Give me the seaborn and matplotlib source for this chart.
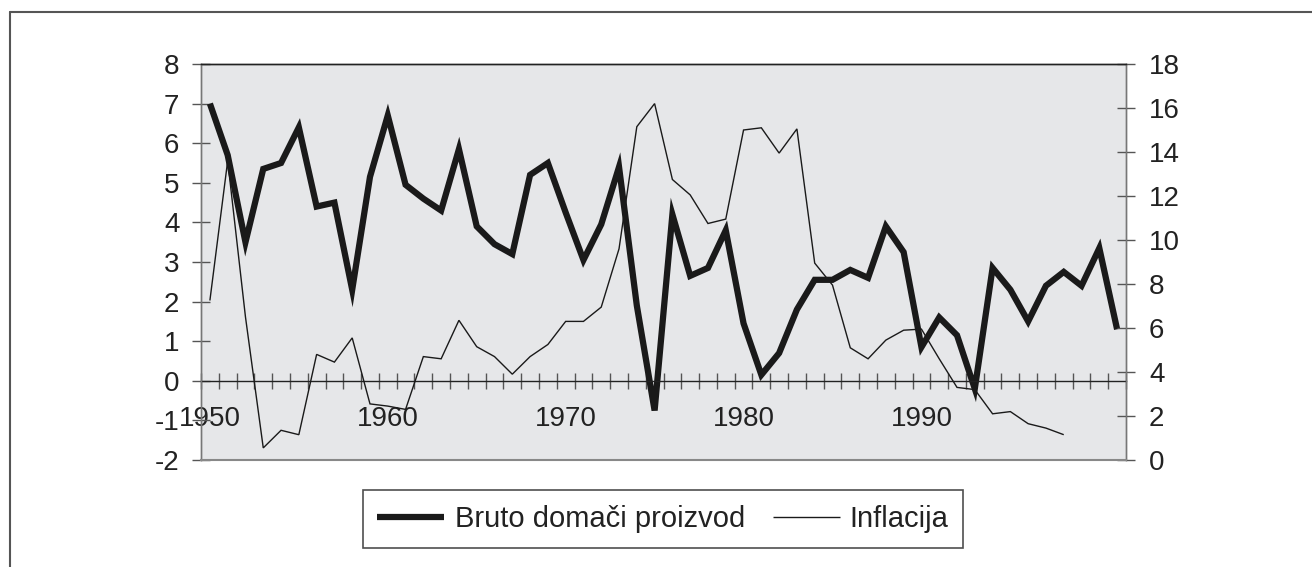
import numpy as np
import pandas as pd
import matplotlib
matplotlib.use("Agg")
import matplotlib.pyplot as plt
from matplotlib.lines import Line2D
from matplotlib.ticker import MultipleLocator, FixedLocator
import seaborn as sns

# podaci ocitani sa grafika
godine = list(range(1950, 2002))
bdp = [7.0, 5.7, 3.5, 5.35, 5.5, 6.4, 4.4, 4.5, 2.3, 5.15,
       6.7, 4.95, 4.6, 4.3, 5.85, 3.9, 3.45, 3.2, 5.2, 5.5,
       4.25, 3.05, 3.95, 5.4, 1.9, -0.75, 4.2, 2.65, 2.85, 3.8,
       1.45, 0.15, 0.7, 1.8, 2.55, 2.55, 2.8, 2.6, 3.9, 3.25,
       0.85, 1.6, 1.15, -0.2, 2.85, 2.3, 1.5, 2.4, 2.75, 2.4,
       3.35, 1.3]
inflacija = [7.25, 13.6, 6.5, 0.55, 1.35, 1.15, 4.8, 4.45, 5.55, 2.55,
             2.45, 2.3, 4.7, 4.6, 6.35, 5.15, 4.7, 3.9, 4.7, 5.25,
             6.3, 6.3, 6.95, 9.6, 15.15, 16.2, 12.75, 12.05, 10.75, 10.95,
             15.0, 15.1, 13.95, 15.05, 8.95, 7.95, 5.1, 4.6, 5.45, 5.9,
             5.95, 4.6, 3.3, 3.2, 2.1, 2.2, 1.65, 1.45, 1.15]
oznake_x = [1950, 1960, 1970, 1980, 1990]

df_bdp = pd.DataFrame({"Godina": godine, "BDP": bdp})
df_inf = pd.DataFrame({"Godina": godine[:len(inflacija)], "Inflacija": inflacija})

sns.set_style("white")
plt.rcParams["font.family"] = ["Liberation Sans", "DejaVu Sans"]
plt.rcParams["axes.unicode_minus"] = False

W, H = 1312, 567
fig = plt.figure(figsize=(W / 100, H / 100), dpi=100)
ax = fig.add_axes([201 / W, 1 - 460 / H, (1126 - 201) / W, (460 - 64) / H])
ax.set_facecolor("#e6e7e9")

sns.lineplot(data=df_bdp, x="Godina", y="BDP", ax=ax, color="#1a1a1a",
             linewidth=4.5, legend=False, solid_joinstyle="miter",
             solid_capstyle="butt")

ax2 = ax.twinx()
sns.lineplot(data=df_inf, x="Godina", y="Inflacija", ax=ax2, color="#1a1a1a",
             linewidth=1.0, legend=False, solid_joinstyle="miter",
             solid_capstyle="butt")

ax.set_xlim(1949.5, 2001.5)
ax.set_ylim(-2, 8)
ax2.set_ylim(0, 18)
ax.yaxis.set_major_locator(MultipleLocator(1))
ax2.yaxis.set_major_locator(MultipleLocator(2))

# x osa prolazi kroz nulu
ax.spines["bottom"].set_position(("data", 0))
ax.spines["bottom"].set_color("#222222")
ax.spines["bottom"].set_linewidth(1.0)
ax.xaxis.set_major_locator(FixedLocator(oznake_x))
ax.xaxis.set_minor_locator(MultipleLocator(1, offset=0.5))
ax.tick_params(axis="x", which="major", bottom=True, length=0, pad=18,
               labelsize=20, colors="#222222")
ax.tick_params(axis="x", which="minor", bottom=True, direction="inout",
               length=11.5, width=1.0, color="#555555")
ax.set_xlabel("")
ax.set_ylabel("")
ax2.set_ylabel("")

ax.tick_params(axis="y", direction="inout", length=13, width=1.0, pad=9,
               labelsize=20, color="#555555", labelcolor="#222222", left=True)
ax2.tick_params(axis="y", direction="inout", length=13, width=1.0, pad=10,
                labelsize=20, color="#555555", labelcolor="#222222", right=True)

for a in (ax, ax2):
    a.spines["top"].set_color("#222222")
    a.spines["left"].set_color("#777777")
    a.spines["right"].set_color("#777777")
    a.spines["top"].set_linewidth(1.0)
    a.spines["left"].set_linewidth(1.0)
    a.spines["right"].set_linewidth(1.0)
ax2.spines["bottom"].set_color("#888888")
ax2.spines["bottom"].set_linewidth(1.5)

# okvir oko cijele slike
fig.add_artist(Line2D([10 / W, 1], [1 - 12 / H, 1 - 12 / H], transform=fig.transFigure,
                      color="#555555", linewidth=1.5))
fig.add_artist(Line2D([10 / W, 10 / W], [0, 1 - 12 / H], transform=fig.transFigure,
                      color="#555555", linewidth=1.5))

handles = [ax.get_lines()[0], ax2.get_lines()[0]]
leg = fig.legend(handles, ["Bruto domači proizvod", "Inflacija"], loc="center",
                 bbox_to_anchor=(663 / W, 1 - 519 / H), ncol=2, fontsize=21,
                 frameon=True, fancybox=False, edgecolor="#222222", handlelength=2.3,
                 handletextpad=0.35, columnspacing=0.95, borderpad=0.5)
leg.get_frame().set_linewidth(1.2)
for t in leg.get_texts():
    t.set_color("#222222")

fig.savefig("out.png", dpi=100, facecolor="white")
